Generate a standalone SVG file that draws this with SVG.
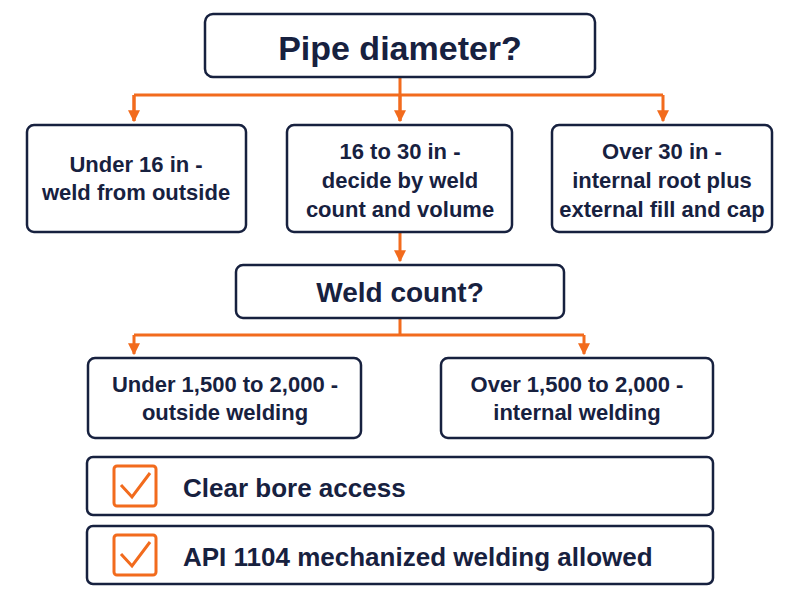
<svg xmlns="http://www.w3.org/2000/svg" width="800" height="600" viewBox="0 0 800 600">
<style>
.box{fill:#fff;stroke:#17213f;stroke-width:2.5}
.t{font-family:"Liberation Sans",Arial,sans-serif;fill:#17213f;font-weight:bold;text-anchor:middle}
.s{font-size:22px}
.c{stroke:#f26b1d;stroke-width:3;fill:none}
.chk{fill:#fff;stroke:#f26b1d;stroke-width:3}
</style>
<defs><marker id="a" viewBox="0 0 10 10" refX="9" refY="5" markerWidth="4" markerHeight="4" orient="auto"><path d="M0,0L10,5L0,10z" fill="#f26b1d"/></marker></defs>
<rect width="800" height="600" fill="#fff"/>
<g id="connectors">
<path class="c" d="M400,77V95M134,95H663M134,95V121M400,95V121M663,95V121" marker-end="url(#a)"/>
<path class="c" d="M134,95V121" marker-end="url(#a)"/>
<path class="c" d="M400,95V121" marker-end="url(#a)"/>
<path class="c" d="M400,232V261" marker-end="url(#a)"/>
<path class="c" d="M400,318V335M134,335H584"/>
<path class="c" d="M134,335V354" marker-end="url(#a)"/>
<path class="c" d="M584,335V354" marker-end="url(#a)"/>
</g>
<g id="root"><rect class="box" x="205" y="14" width="390" height="63" rx="8"/><text class="t" x="400" y="60" font-size="34">Pipe diameter?</text></g>
<g id="n1"><rect class="box" x="27" y="125" width="219" height="107" rx="7"/><text class="t s" x="136" y="172">Under 16 in -</text><text class="t s" x="136" y="200">weld from outside</text></g>
<g id="n2"><rect class="box" x="287" y="125" width="225" height="107" rx="7"/><text class="t s" x="400" y="159">16 to 30 in -</text><text class="t s" x="400" y="188">decide by weld</text><text class="t s" x="400" y="217">count and volume</text></g>
<g id="n3"><rect class="box" x="552" y="125" width="220" height="107" rx="7"/><text class="t s" x="662" y="159">Over 30 in -</text><text class="t s" x="662" y="188">internal root plus</text><text class="t s" x="662" y="217">external fill and cap</text></g>
<g id="weld"><rect class="box" x="236" y="265" width="328" height="53" rx="7"/><text class="t" x="400" y="302" font-size="28">Weld count?</text></g>
<g id="w1"><rect class="box" x="88" y="358" width="273" height="80" rx="7"/><text class="t s" x="225" y="392">Under 1,500 to 2,000 -</text><text class="t s" x="225" y="420">outside welding</text></g>
<g id="w2"><rect class="box" x="441" y="358" width="272" height="80" rx="7"/><text class="t s" x="577" y="392">Over 1,500 to 2,000 -</text><text class="t s" x="577" y="420">internal welding</text></g>
<g id="c1"><rect class="box" x="87" y="457" width="626" height="58" rx="6"/><rect class="chk" x="114" y="466" width="42" height="40" rx="3"/><path class="c" d="M121,485L132,497L150,473" stroke-width="4"/><text class="t" x="183" y="497" font-size="26" text-anchor="start" style="text-anchor:start">Clear bore access</text></g>
<g id="c2"><rect class="box" x="87" y="526" width="626" height="58" rx="6"/><rect class="chk" x="114" y="535" width="42" height="40" rx="3"/><path class="c" d="M121,554L132,566L150,542" stroke-width="4"/><text class="t" x="183" y="566" font-size="26" style="text-anchor:start">API 1104 mechanized welding allowed</text></g>
</svg>
